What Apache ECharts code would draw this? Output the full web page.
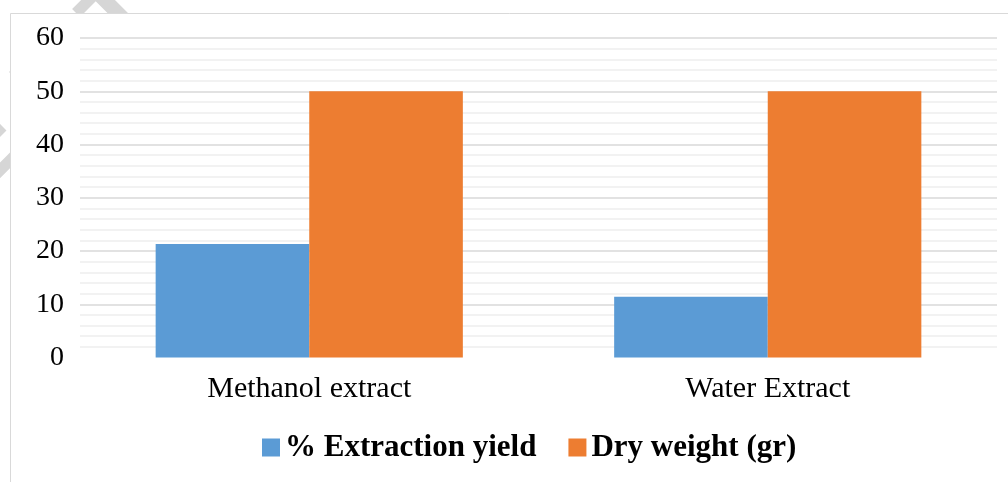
<!DOCTYPE html>
<html>
<head>
<meta charset="utf-8">
<title>Extraction yield and dry weight</title>
<script src="https://cdn.jsdelivr.net/npm/echarts@6/dist/echarts.min.js"></script>
<style>
  html, body { margin: 0; padding: 0; background: #ffffff; }
  #chart { width: 1008px; height: 482px; }
</style>
</head>
<body>
<div id="chart"></div>
<script>
// Extract types on the x axis
const categories = ['Methanol extract', 'Water Extract'];
// Series values
const extractionYield = [21.3, 11.4];
const dryWeight = [50, 50];
const seriesNames = ['% Extraction yield', 'Dry weight (gr)'];
// Value axis ticks
const yTicks = [0, 10, 20, 30, 40, 50, 60];

const serif = '"Liberation Serif", "DejaVu Serif", serif';
const chart = echarts.init(document.getElementById('chart'), null, { renderer: 'canvas' });

// first split line (at 0) is left blank, the others are light grey
const splitColors = ['rgba(0,0,0,0)'].concat(yTicks.slice(1).map(() => '#d9d9d9'));

chart.setOption({
  backgroundColor: '#ffffff',
  animation: false,
  graphic: [
    {
      // page watermark running diagonally behind the chart frame
      type: 'text',
      z: -20,
      x: -210,
      y: 420,
      rotation: Math.PI / 4,
      style: {
        text: 'A C C E P T E D   M A N U S C R I P T',
        font: 'bold 100px "Liberation Sans", sans-serif',
        fill: '#d6d6d6',
        textAlign: 'left',
        textVerticalAlign: 'bottom'
      }
    },
    {
      // chart frame
      type: 'rect',
      z: -10,
      shape: { x: 10.5, y: 13.5, width: 1010, height: 480 },
      style: { fill: '#ffffff', stroke: '#d9d9d9', lineWidth: 1 }
    }
  ],
  grid: { left: 80, right: 11, top: 38, bottom: 124.5 },
  legend: {
    data: seriesNames,
    top: 432,
    left: 262,
    padding: 0,
    itemWidth: 18,
    itemHeight: 18,
    itemGap: 32,
    icon: 'rect',
    textStyle: { fontFamily: serif, fontSize: 31, fontWeight: 'bold', color: '#000000' }
  },
  xAxis: {
    type: 'category',
    data: categories,
    axisLine: { show: false },
    axisTick: { show: false },
    axisLabel: { fontFamily: serif, fontSize: 30, color: '#000000', margin: 17 }
  },
  yAxis: {
    type: 'value',
    min: yTicks[0],
    max: yTicks[yTicks.length - 1],
    interval: 10,
    axisLine: { show: false },
    axisTick: { show: false },
    axisLabel: { fontFamily: serif, fontSize: 28, color: '#000000', margin: 16 },
    splitLine: { show: true, lineStyle: { color: splitColors, width: 1.5 } },
    minorTick: { show: false, splitNumber: 5 },
    minorSplitLine: { show: true, lineStyle: { color: '#eeeeee', width: 1.5 } }
  },
  series: [
    {
      name: seriesNames[0],
      type: 'bar',
      data: extractionYield,
      barGap: '0%',
      barCategoryGap: '33%',
      itemStyle: { color: '#5b9bd5' },
      z: 3
    },
    {
      name: seriesNames[1],
      type: 'bar',
      data: dryWeight,
      barGap: '0%',
      barCategoryGap: '33%',
      itemStyle: { color: '#ed7d31' },
      z: 3
    }
  ]
});
</script>
</body>
</html>
